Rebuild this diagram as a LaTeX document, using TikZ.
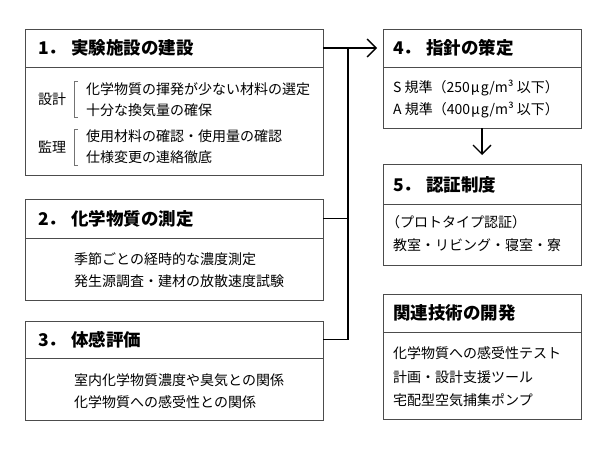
\documentclass[tikz,border=0pt]{standalone}
\usepackage{fontspec}
\setmainfont{Noto Sans CJK JP}
\usetikzlibrary{arrows.meta}
\begin{document}
\begin{tikzpicture}[x=1pt,y=-1pt,
  box/.style={draw=black!70, line width=1pt, anchor=north west, inner sep=0pt, outer sep=0pt, minimum width=#1},
  ttl/.style={anchor=west, inner sep=0pt, font=\fontsize{17.5}{20}\selectfont\bfseries},
  txt/.style={anchor=west, inner sep=0pt, font=\fontsize{14}{16}\selectfont},
  brk/.style={draw=black!55, line width=0.7pt},
  conn/.style={line width=1.6pt, black},
  tip/.style={-{Straight Barb[length=9pt,width=18pt,line width=1.3pt]}}]
\useasboundingbox (0,0) rectangle (600,450);
% Box 1
\node[box=298pt, minimum height=38pt] (h1) at (25,29) {};
\node[box=298pt, minimum height=108pt] (b1) at (25,67) {};
\node[ttl] (t1) at (38,48) {1．\hspace{5pt}実験施設の建設};
\node[txt] (s1) at (38,99) {設計};
\node[txt] (m1) at (38,147) {監理};
\draw[brk] (78,81) -- (74,81) -- (74,117) -- (78,117);
\draw[brk] (78,129) -- (74,129) -- (74,165) -- (78,165);
\node[txt] (l11) at (86,89) {化学物質の揮発が少ない材料の選定};
\node[txt] (l12) at (86,110) {十分な換気量の確保};
\node[txt] (l13) at (86,136) {使用材料の確認・使用量の確認};
\node[txt] (l14) at (86,157) {仕様変更の連絡徹底};
% Box 2
\node[box=298pt, minimum height=39pt] (h2) at (25,199) {};
\node[box=298pt, minimum height=62pt] (b2) at (25,238) {};
\node[ttl] (t2) at (38,219) {2．\hspace{5pt}化学物質の測定};
\node[txt] (l21) at (74,259) {季節ごとの経時的な濃度測定};
\node[txt] (l22) at (74,281) {発生源調査・建材の放散速度試験};
% Box 3
\node[box=298pt, minimum height=37pt] (h3) at (25,321) {};
\node[box=298pt, minimum height=62pt] (b3) at (25,358) {};
\node[ttl] (t3) at (38,340) {3．\hspace{5pt}体感評価};
\node[txt] (l31) at (74,380) {室内化学物質濃度や臭気との関係};
\node[txt] (l32) at (74,402) {化学物質への感受性との関係};
% Box 4
\node[box=198pt, minimum height=38pt] (h4) at (383,29) {};
\node[box=198pt, minimum height=61pt] (b4) at (383,67) {};
\node[ttl] (t4) at (393,48) {4．\hspace{5pt}指針の策定};
\node[txt] (l41) at (393,88) {S 規準（250\kern1ptμ\kern1ptg/m³ 以下）};
\node[txt] (l42) at (393,110) {A 規準（400\kern1ptμ\kern1ptg/m³ 以下）};
% Box 5
\node[box=198pt, minimum height=40pt] (h5) at (383,164) {};
\node[box=198pt, minimum height=61pt] (b5) at (383,204) {};
\node[ttl] (t5) at (393,185) {5．\hspace{5pt}認証制度};
\node[txt] (l51) at (386,222) {（プロトタイプ認証）};
\node[txt] (l52) at (393,245) {教室・リビング・寝室・寮};
% Box 6
\node[box=198pt, minimum height=38pt] (h6) at (383,294) {};
\node[box=198pt, minimum height=87pt] (b6) at (383,332) {};
\node[ttl] (t6) at (393,313) {関連技術の開発};
\node[txt] (l61) at (393,353) {化学物質への感受性テスト};
\node[txt] (l62) at (393,377) {計画・設計支援ツール};
\node[txt] (l63) at (393,400) {宅配型空気捕集ポンプ};
% Connectors
\coordinate (j) at (348,48);
\draw[conn, tip, shorten >=6pt] (h1.east) -- (h4.west);
\draw[conn] (h2.east) -- (h2.east -| j);
\draw[conn] (h3.east) -| (j);
\draw[conn, line width=1.3pt, tip, shorten >=9pt] (b4.south) -- (h5.north);
\end{tikzpicture}
\end{document}
